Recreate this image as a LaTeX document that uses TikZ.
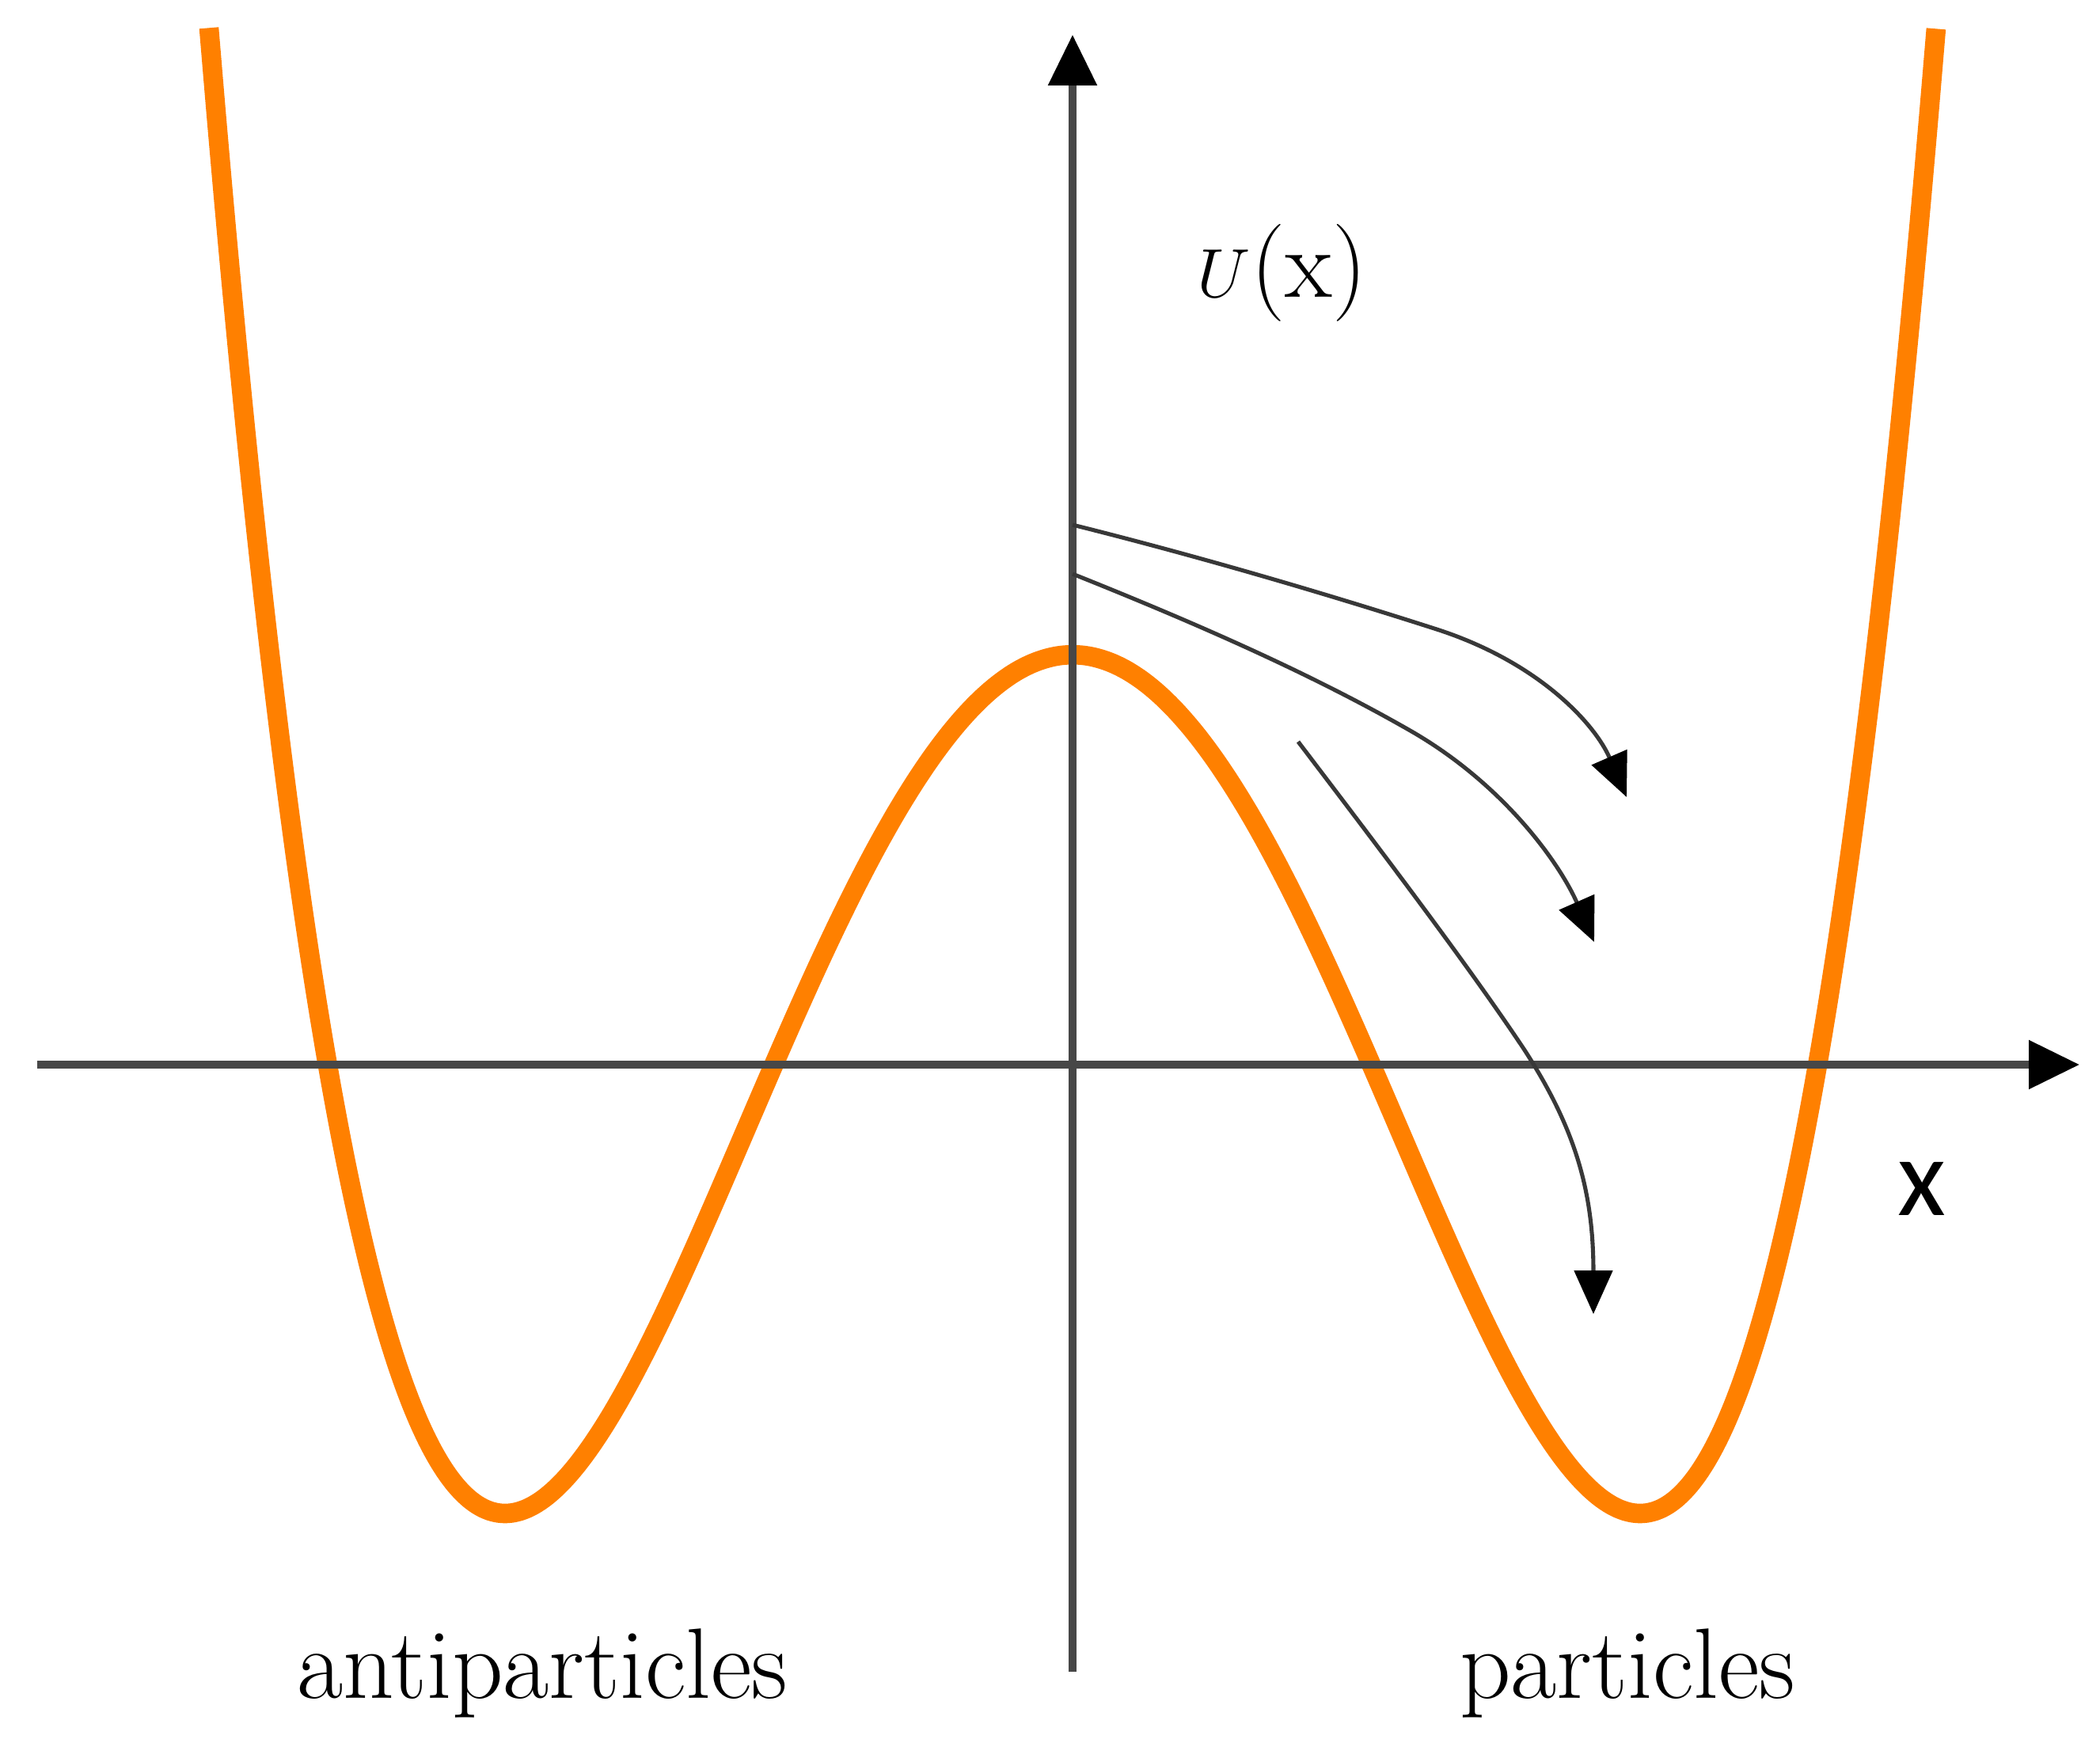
\documentclass[tikz,border=0pt]{standalone}
\usepackage{fontspec}
\newfontfamily\calibri{Carlito}
\usetikzlibrary{arrows.meta}
\definecolor{curveorange}{RGB}{255,128,0}
\tikzset{
  axisline/.style={line width=2.6pt, draw=black!72, -{Triangle[length=0.64cm,width=0.6cm,color=black]}},
  flowarrow/.style={line width=1.45pt, draw=black!78, -{Triangle[length=0.55cm,width=0.48cm,color=black]}},
  potential/.style={line width=7pt, draw=curveorange},
  lbl/.style={inner sep=0pt, font=\fontsize{36}{42}\selectfont}
}
\begin{document}
\begin{tikzpicture}
\useasboundingbox (-13.55,-8.80) rectangle (12.98,13.45);
% potential curve
\draw[potential] plot[domain=-10.91:10.91, samples=240, smooth] (\x,{0.004098*(\x*\x-51.41)*(\x*\x-51.41)-5.67});
% axes
\coordinate (hl) at (-13.08,0);
\coordinate (hr) at (12.72,0);
\coordinate (vb) at (0,-7.67);
\coordinate (vt) at (0,13.01);
\draw[axisline] (hl) -- (hr);
\draw[axisline] (vb) -- (vt);
% flow arrows
\coordinate (a1s) at (0,6.82);
\coordinate (a1m) at (4.6,5.50);
\coordinate (a1e) at (7.0,3.38);
\coordinate (a2s) at (0,6.20);
\coordinate (a2m) at (4.3,4.2);
\coordinate (a2e) at (6.59,1.55);
\coordinate (a3s) at (2.85,4.08);
\coordinate (a3m) at (5.7,0.2);
\coordinate (a3e) at (6.58,-3.15);
\draw[flowarrow] (a1s) .. controls (1.6,6.42) and (3.2,5.95) .. (a1m)
                       .. controls (5.9,5.08) and (6.6,4.3) .. (a1e);
\draw[flowarrow] (a2s) .. controls (1.5,5.6) and (3.0,4.95) .. (a2m)
                       .. controls (5.45,3.53) and (6.15,2.55) .. (a2e);
\draw[flowarrow] (a3s) .. controls (3.9,2.7) and (5.0,1.25) .. (a3m)
                       .. controls (6.35,-0.8) and (6.58,-1.6) .. (a3e);
% labels
\node[lbl, font=\fontsize{35}{42}\selectfont] (ux) at (2.65,10.0) {$U$(x)};
\node[inner sep=0pt, font=\calibri\fontsize{40}{48}\selectfont] (xl) at (10.73,-1.57) {x};
\node[lbl, anchor=base] (anti) at (-6.70,-8.00) {antiparticles};
\node[lbl, anchor=base] (part) at (7.01,-8.00) {particles};
\end{tikzpicture}
\end{document}
